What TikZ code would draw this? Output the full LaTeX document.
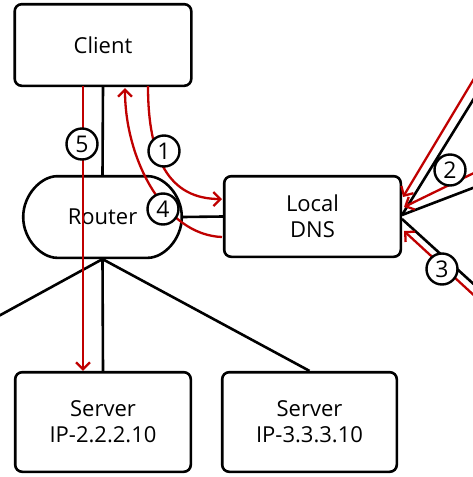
\documentclass[tikz,border=0pt]{standalone}
\usepackage{fontspec}
\setmainfont{Open Sans}
\usetikzlibrary{arrows.meta,shapes.misc}
\definecolor{arr}{RGB}{192,0,0}
\tikzset{
  box/.style={draw, line width=2.6pt, rounded corners=7pt, inner sep=0pt, fill=white,
    font=\fontsize{22}{26}\selectfont, align=center},
  link/.style={line width=2.6pt},
  flow/.style={draw=arr, line width=2.3pt, -{Straight Barb[length=7pt,width=14pt]}},
  num/.style={circle, draw, fill=white, line width=2.4pt, minimum size=31pt, inner sep=0pt,
    font=\fontsize{23}{23}\selectfont}
}
\begin{document}
\begin{tikzpicture}[x=1pt,y=-1pt]
\useasboundingbox[fill=white] (0,0) rectangle (473,477);
% nodes
\node[box, minimum width=176.6pt, minimum height=81.6pt] (client) at (103,45) {Client};
\node[box, rounded rectangle, minimum width=158.6pt, minimum height=81.6pt] (router) at (102.5,217) {Router};
\node[box, minimum width=176.6pt, minimum height=80.6pt] (dns) at (312.5,216.5) {Local\\DNS};
\node[box, minimum width=175.6pt, minimum height=99.6pt] (srv1) at (103,422) {Server\\IP-2.2.2.10};
\node[box, minimum width=174.6pt, minimum height=99.6pt] (srv2) at (309.5,422) {Server\\IP-3.3.3.10};
% free ends
\coordinate (offL) at (-5,318);
\coordinate (dnsA) at (402,215);
\coordinate (dnsC) at (402,219);
\coordinate (offA) at (478,92);
\coordinate (offB) at (478,186);
\coordinate (offC) at (478,288);
\coordinate (roffA) at (478,72);
\coordinate (roffB) at (478,171);
\coordinate (roffC) at (478,299);
\coordinate (tipA) at (403,197);
\coordinate (tipB) at (404,207);
\coordinate (tipC) at (404,231);
\coordinate (f5) at (83,86);
\coordinate (f1s) at (148,86);
\coordinate (f1e) at (222,199);
\coordinate (f4s) at (222,237);
\coordinate (f4e) at (125,88);
% black links
\draw[link] (client.south) -- (router.north);
\draw[link] (router.east) -- (dns.west);
\draw[link] (router.south) -- (srv1.north);
\draw[link] (router.south) -- (srv2.north);
\draw[link] (router.south) -- (offL);
\draw[link] (dnsA) -- (offA);
\draw[link] (dnsA) -- (offB);
\draw[link] (dnsC) -- (offC);
% red flows
\draw[flow] (f5) -- (srv1.north -| f5);
\draw[flow] (f1s) .. controls (148,160) and (170,199) .. (f1e);
\draw[flow] (f4s) .. controls (165,235) and (125,160) .. (f4e);
\draw[flow] (roffA) -- (tipA);
\draw[flow] (roffB) -- (tipB);
\draw[flow] (roffC) -- (tipC);
% numbers
\node[num] (n1) at (164,151) {1};
\node[num] (n2) at (450,170) {2};
\node[num] (n3) at (442,269) {3};
\node[num] (n4) at (163,209) {4};
\node[num] (n5) at (82,144) {5};
\end{tikzpicture}
\end{document}
